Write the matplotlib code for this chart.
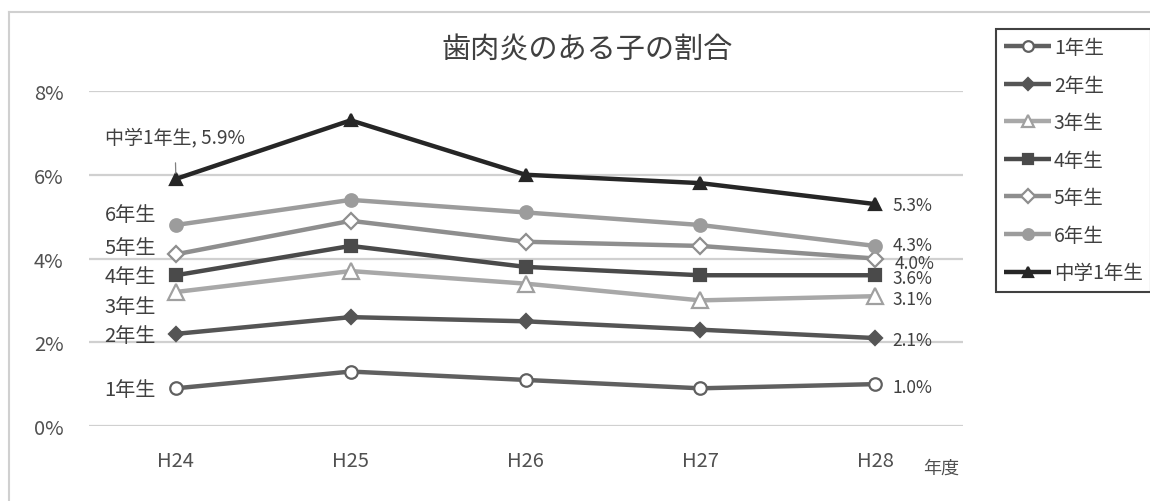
import matplotlib
matplotlib.use("Agg")
import matplotlib.pyplot as plt
from matplotlib.lines import Line2D

plt.rcParams['font.family'] = ['Noto Sans CJK JP', 'DejaVu Sans']

years = ["H24", "H25", "H26", "H27", "H28"]
grade1 = [0.9, 1.3, 1.1, 0.9, 1.0]
grade2 = [2.2, 2.6, 2.5, 2.3, 2.1]
grade3 = [3.2, 3.7, 3.4, 3.0, 3.1]
grade4 = [3.6, 4.3, 3.8, 3.6, 3.6]
grade5 = [4.1, 4.9, 4.4, 4.3, 4.0]
grade6 = [4.8, 5.4, 5.1, 4.8, 4.3]
junior1 = [5.9, 7.3, 6.0, 5.8, 5.3]
names = ["1年生", "2年生", "3年生", "4年生", "5年生", "6年生", "中学1年生"]
yticks = [0, 2, 4, 6, 8]

series = [grade1, grade2, grade3, grade4, grade5, grade6, junior1]
styles = [
    dict(color="#606060", marker="o", mfc="white", mec="#606060", ms=9),
    dict(color="#555555", marker="D", mfc="#555555", mec="#555555", ms=7),
    dict(color="#a8a8a8", marker="^", mfc="white", mec="#a0a0a0", ms=11),
    dict(color="#4a4a4a", marker="s", mfc="#4a4a4a", mec="#4a4a4a", ms=9),
    dict(color="#8e8e8e", marker="D", mfc="white", mec="#8e8e8e", ms=8),
    dict(color="#9c9c9c", marker="o", mfc="#9c9c9c", mec="#9c9c9c", ms=9),
    dict(color="#262626", marker="^", mfc="#262626", mec="#262626", ms=9),
]

W, H = 1150, 502
fig = plt.figure(figsize=(W / 100, H / 100), dpi=100)
ax = fig.add_axes([88.5 / W, 1 - 427 / H, 874 / W, (427 - 92) / H])

x = list(range(len(years)))
handles = []
for vals, st, name in zip(series, styles, names):
    h, = ax.plot(x, vals, lw=3.2, color=st["color"], marker=st["marker"],
                 mfc=st["mfc"], mec=st["mec"], ms=st["ms"], mew=1.6,
                 label=name, zorder=3, solid_capstyle="butt")
    handles.append(h)

ax.set_xlim(-0.5, 4.5)
ax.set_ylim(0, 8)
ax.set_yticks(yticks)
ax.set_yticklabels([f"{v}%" for v in yticks])
ax.set_xticks(x)
ax.set_xticklabels(years)
ax.grid(axis="y", color="#d0d0d0", lw=1.6, zorder=0)
for s in ax.spines.values():
    s.set_visible(False)
ax.tick_params(length=0, labelsize=14.5, colors="#505050")
ax.tick_params(axis="y", pad=18)
ax.tick_params(axis="x", pad=17)

tc = "#404040"
# series names beside the first year
left_y = {"1年生": 0.86, "2年生": 2.15, "3年生": 2.86, "4年生": 3.58,
          "5年生": 4.27, "6年生": 5.04}
for name, yy in left_y.items():
    ax.text(-0.115, yy, name, ha="right", va="center", fontsize=14.5, color=tc)
ax.annotate(f"中学1年生, {junior1[0]}%", xy=(0, junior1[0]), xytext=(-0.006, 6.9),
            ha="center", va="center", fontsize=13.7, color=tc,
            arrowprops=dict(arrowstyle="-", color="#808080", lw=0.9,
                            shrinkA=9, shrinkB=4))

# values at the last year
right_off = {"1年生": -0.07, "2年生": -0.05, "3年生": -0.07, "4年生": -0.07,
             "5年生": -0.1, "6年生": 0.02, "中学1年生": -0.03}
right_x = {"5年生": 4.11}
for vals, name in zip(series, names):
    ax.text(right_x.get(name, 4.1), vals[-1] + right_off[name],
            f"{vals[-1]:.1f}%", ha="left", va="center", fontsize=12.5, color=tc)

fig.text(587 / W, 1 - 50 / H, "歯肉炎のある子の割合", ha="center", va="center",
         fontsize=21, color="#404040")
fig.text(941 / W, 1 - 469 / H, "年度", ha="center", va="center",
         fontsize=13, color="#505050")

# outer frame
fig.add_artist(Line2D([9 / W, 1], [1 - 13 / H, 1 - 13 / H], color="#d0d0d0", lw=1.5))
fig.add_artist(Line2D([9 / W, 9 / W], [0, 1 - 13 / H], color="#d0d0d0", lw=1.5))

leg = fig.legend(handles=handles, loc="upper left",
                 bbox_to_anchor=(996 / W, 1 - 30 / H), frameon=True,
                 fancybox=False, fontsize=14, labelspacing=0.85,
                 handlelength=2.4, handletextpad=0.15, borderpad=0.42,
                 borderaxespad=0)
leg.get_frame().set_edgecolor("#111111")
leg.get_frame().set_linewidth(1.5)
for t in leg.get_texts():
    t.set_color("#404040")
for lh in leg.legend_handles:
    lh.set_markersize(lh.get_markersize() * 0.85)

fig.savefig("out.png", dpi=100, facecolor="white")
